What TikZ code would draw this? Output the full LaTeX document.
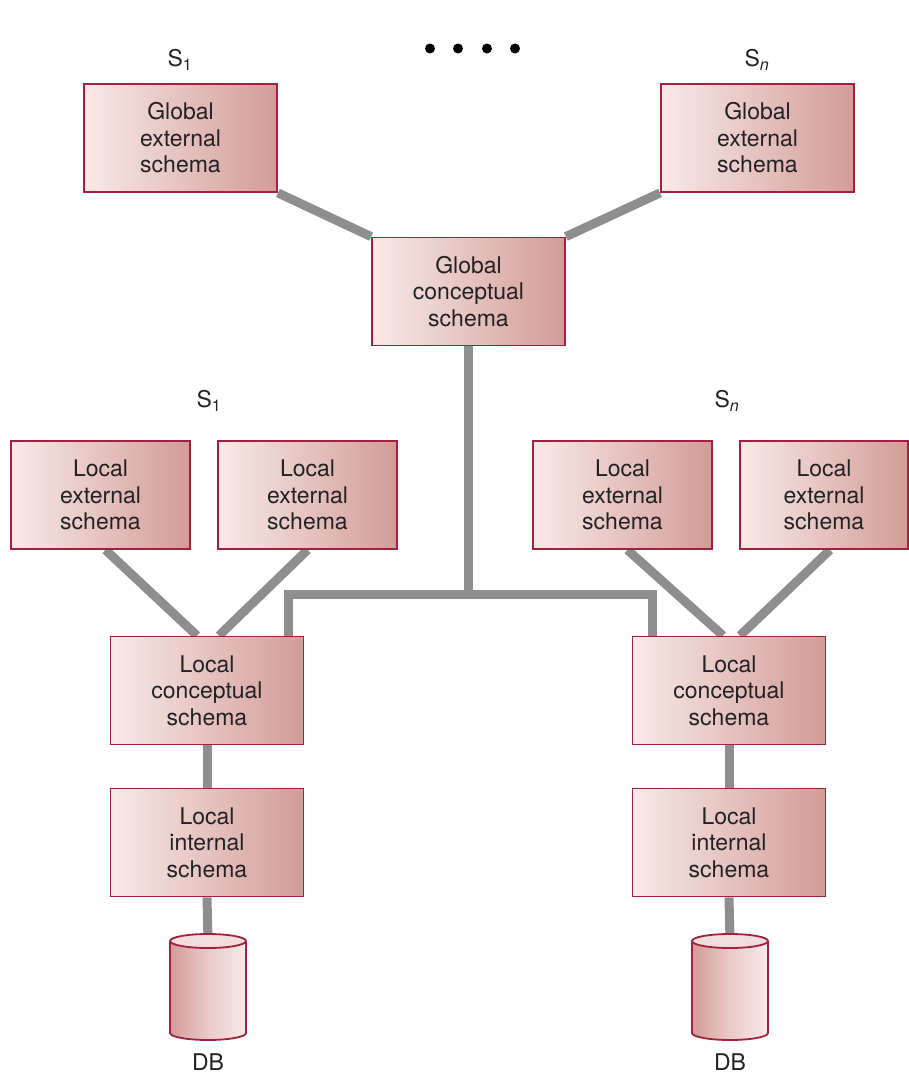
\documentclass[tikz,border=0pt]{standalone}
\usepackage{fontspec}
\setmainfont{TeX Gyre Heros}
\usetikzlibrary{calc,backgrounds}
\definecolor{boxedge}{HTML}{A3203F}
\definecolor{boxlight}{HTML}{F7EAE8}
\definecolor{boxdark}{HTML}{D39C96}
\definecolor{linkgray}{HTML}{8E8E8E}
\definecolor{textgray}{HTML}{222222}
\tikzset{
  schemabox/.style={draw=boxedge, line width=1.8pt, left color=boxlight, right color=boxdark,
    minimum width=193pt, minimum height=108pt, align=center, inner sep=0pt,
    text=textgray, font=\fontsize{23}{26.5}\selectfont},
  narrowbox/.style={schemabox, minimum width=179pt},
  link/.style={draw=linkgray, line width=9pt, line join=miter},
  tag/.style={text=textgray, font=\fontsize{23}{26}\selectfont, inner sep=0pt},
}
% a database cylinder centred on x = #1, its top centre named #2
\newcommand{\dbcyl}[2]{%
  \coordinate (#2) at (#1,941);
  \path[left color=boxdark, right color=boxlight, middle color=boxlight!60!boxdark]
    (#1-38,941) -- (#1-38,1033) arc[start angle=180,end angle=0,x radius=38,y radius=7]
    -- (#1+38,941) -- cycle;
  \fill[boxlight!85!boxdark] (#1,941) ellipse[x radius=38,y radius=7];
  \draw[boxedge, line width=1.8pt] (#1-38,941) -- (#1-38,1033)
    arc[start angle=180,end angle=0,x radius=38,y radius=7] -- (#1+38,941);
  \draw[boxedge, line width=1.8pt] (#1,941) ellipse[x radius=38,y radius=7];
}
\begin{document}
\begin{tikzpicture}[x=1pt,y=-1pt]
\useasboundingbox (0,0) rectangle (909,1074);

% schema boxes
\node[schemabox] (ge1) at (180.5,138) {Global\\external\\schema};
\node[schemabox] (gen) at (757.5,138) {Global\\external\\schema};
\node[schemabox] (gc)  at (468.5,291.5) {Global\\conceptual\\schema};
\node[narrowbox] (le1) at (100.5,495) {Local\\external\\schema};
\node[narrowbox] (le2) at (307.5,495) {Local\\external\\schema};
\node[narrowbox] (le3) at (622.5,495) {Local\\external\\schema};
\node[narrowbox, minimum width=168pt] (le4) at (824,495) {Local\\external\\schema};
\node[schemabox] (lc1) at (207,690.5) {Local\\conceptual\\schema};
\node[schemabox] (lc2) at (729,690.5) {Local\\conceptual\\schema};
\node[schemabox] (li1) at (207,842.5) {Local\\internal\\schema};
\node[schemabox] (li2) at (729,842.5) {Local\\internal\\schema};

% site labels and ellipsis
\node[tag] (s1top) at (180,60) {S\textsubscript{1}};
\node[tag] (sntop) at (757,60) {S\textsubscript{\itshape n}};
\node[tag] (s1low) at (209,401) {S\textsubscript{1}};
\node[tag] (snlow) at (727,401) {S\textsubscript{\itshape n}};
\foreach \x in {430,458,487,515} \fill (\x,48.5) circle (5);

% databases
\dbcyl{208}{db1}
\dbcyl{730}{db2}
\node[tag] (dbl1) at (208,1062) {DB};
\node[tag] (dbl2) at (730,1062) {DB};

% connectors, drawn beneath the boxes
\coordinate (j)  at (468.5,594);
\coordinate (jl) at (288,594);
\coordinate (jr) at (652,594);
\begin{scope}[on background layer]
  \draw[link] (ge1.south east) -- (gc.north west);
  \draw[link] (gen.south west) -- (gc.north east);
  \draw[link] (gc.south) -- (j);
  \draw[link] (lc1.north -| jl) -- (jl) -- (jr) -- (lc2.north -| jr);
  \draw[link] ($(le1.south)+(5,0)$) -- ($(lc1.north)+(-10,0)$);
  \draw[link] (le2.south) -- ($(lc1.north)+(12,0)$);
  \draw[link] ($(le3.south)+(5,0)$) -- ($(lc2.north)+(-6,0)$);
  \draw[link] ($(le4.south)+(6,0)$) -- ($(lc2.north)+(11,0)$);
  \draw[link] (lc1.south) -- (li1.north);
  \draw[link] (lc2.south) -- (li2.north);
  \draw[link] (li1.south) -- (db1);
  \draw[link] (li2.south) -- (db2);
\end{scope}
\end{tikzpicture}
\end{document}
